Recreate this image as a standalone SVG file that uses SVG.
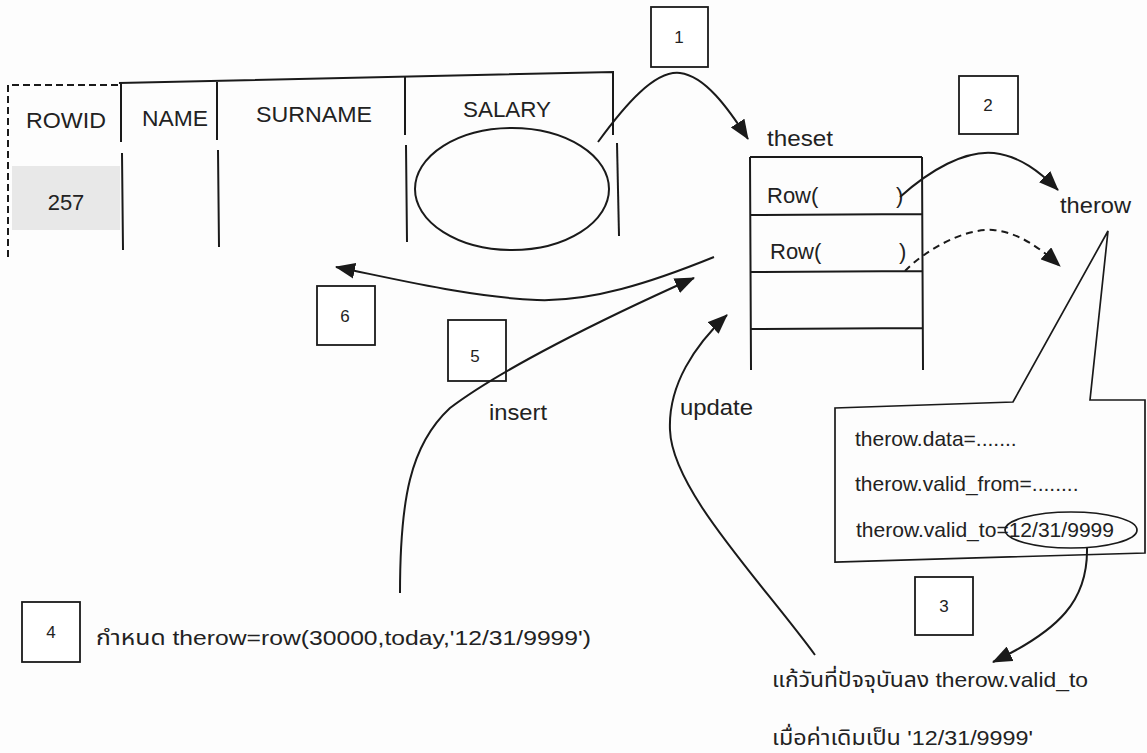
<svg xmlns="http://www.w3.org/2000/svg" width="1147" height="753" viewBox="0 0 1147 753">
<style>
  .ln{fill:none;stroke:#1a1a1a;stroke-width:2}
  .thin{fill:none;stroke:#1a1a1a;stroke-width:1.7}
  .box{fill:#fff;stroke:#1a1a1a;stroke-width:1.8}
  .t{font-family:"Liberation Sans",Arial,sans-serif;fill:#222}
  .lbl{font-size:22px}
  .num{font-size:17px;text-anchor:middle}
  .sm{font-size:21px}
  .th{font-family:"Liberation Sans","Noto Sans Thai","Noto Sans",sans-serif;font-size:21px;fill:#222}
  .mid{text-anchor:middle}
  .arr{fill:none;stroke:#1a1a1a;stroke-width:2;marker-end:url(#ah)}
</style>
<defs>
  <marker id="ah" viewBox="0 0 20 16" refX="19" refY="8" markerWidth="20" markerHeight="16" markerUnits="userSpaceOnUse" orient="auto">
    <path d="M0,0 L20,8 L0,16 Z" fill="#1a1a1a"/>
  </marker>
</defs>
<rect width="1147" height="753" fill="#fdfdfd"/>

<g id="table">
  <rect x="12" y="166" width="108" height="64" fill="#e8e8e8"/>
  <path class="ln" d="M8,257 L8,85 L119,85" stroke-dasharray="7,4"/>
  <path class="ln" d="M119,83 L613,72 L613,135"/>
  <path class="ln" d="M617,143 L619,236"/>
  <path class="ln" d="M121,83 L121,142 M122,153 L123,250"/>
  <path class="ln" d="M217,82 L217,140 M218,150 L219,247"/>
  <path class="ln" d="M405,77 L405,135 M406,145 L407,242"/>
  <ellipse class="ln" cx="512" cy="189" rx="97" ry="61"/>
  <text class="t lbl mid" x="66" y="128" textLength="80" lengthAdjust="spacingAndGlyphs">ROWID</text>
  <text class="t lbl mid" x="175" y="126" textLength="66" lengthAdjust="spacingAndGlyphs">NAME</text>
  <text class="t lbl mid" x="314" y="122" textLength="116" lengthAdjust="spacingAndGlyphs">SURNAME</text>
  <text class="t lbl mid" x="507" y="117" textLength="88" lengthAdjust="spacingAndGlyphs">SALARY</text>
  <text class="t lbl mid" x="66" y="210">257</text>
</g>

<g id="theset">
  <text class="t lbl" x="767" y="146" textLength="66" lengthAdjust="spacingAndGlyphs">theset</text>
  <path class="ln" d="M750,157 L922,157 M750,157 L751,370 M922,157 L923,370 M750,215 L922,214 M751,272 L922,271 M751,329 L923,328"/>
  <text class="t lbl" x="767" y="203">Row(</text>
  <text class="t lbl" x="896" y="203">)</text>
  <text class="t lbl" x="770" y="259">Row(</text>
  <text class="t lbl" x="899" y="259">)</text>
</g>

<g id="therow">
  <text class="t lbl" x="1060" y="213" textLength="71" lengthAdjust="spacingAndGlyphs">therow</text>
</g>

<g id="callout">
  <path class="thin" d="M835,562 L835,408 L1013,402 L1108,231 L1090,400 L1145,400 L1145,553 Z" fill="#fff"/>
  <text class="t sm" x="855" y="446">therow.data=.......</text>
  <text class="t sm" x="855" y="491">therow.valid_from=........</text>
  <text class="t sm" x="856" y="537" textLength="258" lengthAdjust="spacingAndGlyphs">therow.valid_to=12/31/9999</text>
  <ellipse class="thin" cx="1071" cy="530" rx="66" ry="18"/>
</g>

<g id="box1"><rect class="box" x="651" y="7" width="57" height="60"/><text class="t num" x="679" y="43">1</text></g>
<g id="box2"><rect class="box" x="959" y="76" width="59" height="58"/><text class="t num" x="988" y="111">2</text></g>
<g id="box3"><rect class="box" x="915" y="577" width="58" height="58"/><text class="t num" x="944" y="612">3</text></g>
<g id="box4"><rect class="box" x="22" y="602" width="58" height="60"/><text class="t num" x="51" y="638">4</text></g>
<g id="box5"><rect class="box" x="448" y="320" width="58" height="61"/><text class="t num" x="475" y="362">5</text></g>
<g id="box6"><rect class="box" x="317" y="286" width="58" height="59"/><text class="t num" x="345" y="322">6</text></g>

<g id="labels">
  <text class="t lbl" x="489" y="420" textLength="58" lengthAdjust="spacingAndGlyphs">insert</text>
  <text class="t lbl" x="680" y="415" textLength="73" lengthAdjust="spacingAndGlyphs">update</text>
  <text class="th" x="96" y="645" textLength="495" lengthAdjust="spacingAndGlyphs">กำหนด therow=row(30000,today,'12/31/9999')</text>
  <text class="th" x="772" y="687" textLength="316" lengthAdjust="spacingAndGlyphs">แก้วันที่ปัจจุบันลง therow.valid_to</text>
  <text class="th" x="772" y="745" textLength="261" lengthAdjust="spacingAndGlyphs">เมื่อค่าเดิมเป็น '12/31/9999'</text>
</g>

<g id="connectors">
  <path class="arr" d="M598,142 C625,105 655,70 680,73 C705,76 728,108 748,139"/>
  <path class="arr" d="M900,197 C930,170 965,150 994,153 C1020,156 1040,172 1058,190"/>
  <path class="arr" d="M905,271 C925,250 965,228 993,230 C1018,232 1040,248 1060,266" stroke-dasharray="7,5"/>
  <path class="arr" d="M714,257 C650,283 590,302 537,300 C470,297 400,280 336,267"/>
  <path class="arr" d="M400,593 C400,500 410,445 450,408 C500,370 600,320 694,278"/>
  <path class="arr" d="M815,655 C760,580 672,490 670,430 C668,385 695,345 727,315"/>
  <path class="arr" d="M1087,548 C1088,600 1060,630 993,662"/>
</g>
</svg>
